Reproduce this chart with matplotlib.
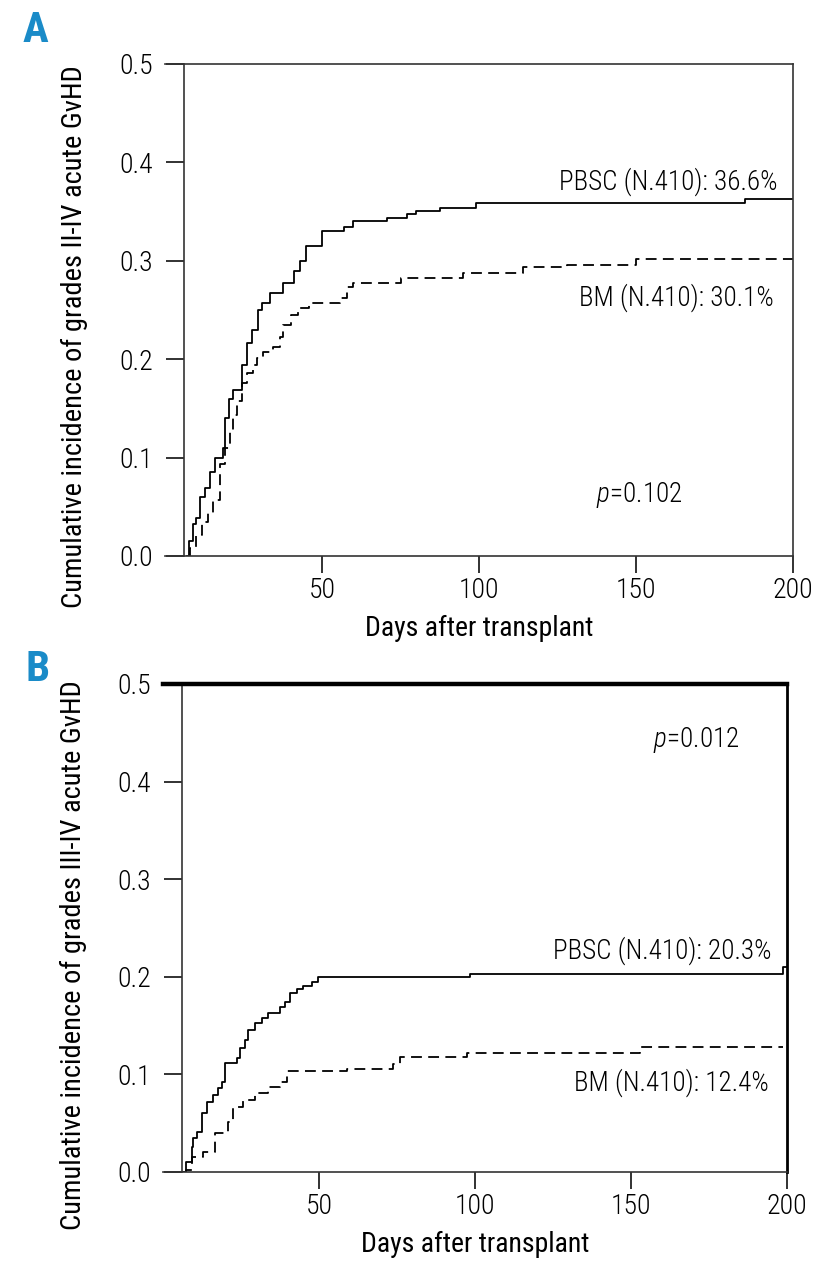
import numpy as np
import matplotlib
matplotlib.use("Agg")
import matplotlib.pyplot as plt

plt.rcParams['font.family'] = ['Liberation Sans Narrow', 'Roboto Condensed', 'DejaVu Sans']
plt.rcParams['font.stretch'] = 'condensed'
plt.rcParams['font.weight'] = 'light'
plt.rcParams['mathtext.fontset'] = 'custom'
plt.rcParams['mathtext.it'] = 'Roboto Condensed:italic:light'
plt.rcParams['mathtext.rm'] = 'Roboto Condensed:light'

# panel A: grades II-IV
a_pbsc_days = [7, 7.6, 9, 10, 11, 12.7, 14.3, 16, 18.5, 19, 20.4, 21.7, 24.5, 26, 27.7, 29.6,
               31, 33.4, 37.6, 41, 43, 45, 50, 57, 60, 70.7, 77, 80, 87.6, 99, 184.7, 200]
a_pbsc_cum = [0, 0.015, 0.033, 0.039, 0.06, 0.069, 0.085, 0.10, 0.11, 0.14, 0.16, 0.169, 0.194,
              0.216, 0.23, 0.25, 0.257, 0.267, 0.277, 0.29, 0.30, 0.315, 0.33, 0.334, 0.34, 0.343,
              0.348, 0.351, 0.354, 0.359, 0.363, 0.363]
a_bm_days = [7.3, 8, 10, 11.7, 13.7, 15.3, 17.5, 19, 20.7, 21.7, 22.8, 24.5, 26, 28, 29.3, 31.2,
             34.4, 36.6, 37.6, 40, 42.4, 46, 55.7, 58, 60, 75, 95, 114, 128, 150, 200]
a_bm_cum = [0, 0.008, 0.021, 0.035, 0.044, 0.057, 0.094, 0.11, 0.128, 0.143, 0.158, 0.176, 0.186,
            0.194, 0.201, 0.207, 0.212, 0.223, 0.235, 0.245, 0.252, 0.257, 0.262, 0.273, 0.277,
            0.283, 0.288, 0.294, 0.296, 0.302, 0.302]

# panel B: grades III-IV
b_pbsc_days = [6.4, 7.4, 9.3, 9.6, 10.9, 12.5, 14, 16, 17.6, 18.9, 19.9, 23.7, 24.7, 26.3, 27.2,
               29.5, 31.7, 33.7, 37.5, 39, 40.7, 42.9, 45, 47.8, 49.7, 98.4, 198.7, 200]
b_pbsc_cum = [0, 0.01, 0.026, 0.035, 0.041, 0.06, 0.072, 0.079, 0.086, 0.092, 0.112, 0.117, 0.127,
              0.135, 0.145, 0.153, 0.158, 0.163, 0.169, 0.174, 0.183, 0.188, 0.191, 0.195, 0.2,
              0.203, 0.21, 0.21]
b_bm_days = [6.4, 7.4, 9.3, 12.8, 16.7, 20.8, 22.4, 25.6, 29.5, 33.7, 37.5, 39.7, 59, 73.7, 76,
             97.4, 153, 198.7]
b_bm_cum = [0, 0.002, 0.015, 0.02, 0.04, 0.051, 0.067, 0.074, 0.081, 0.087, 0.092, 0.103, 0.106,
            0.111, 0.118, 0.122, 0.128, 0.128]

xticks = [50, 100, 150, 200]
yticks = [0.0, 0.1, 0.2, 0.3, 0.4, 0.5]

fig = plt.figure(figsize=(8.32, 12.8), dpi=100)
axA = fig.add_axes([165/832, 1-556/1280, 628/832, 492/1280])
axB = fig.add_axes([163/832, 1-1172/1280, 624/832, 488/1280])

panels = [
    (axA, a_pbsc_days, a_pbsc_cum, a_bm_days, a_bm_cum,
     'Cumulative incidence of grades II-IV acute GvHD',
     'PBSC (N.410): 36.6%', 0.38, 'BM (N.410): 30.1%', 0.263, (151, 0.062), '=0.102'),
    (axB, b_pbsc_days, b_pbsc_cum, b_bm_days, b_bm_cum,
     'Cumulative incidence of grades III-IV acute GvHD',
     'PBSC (N.410): 20.3%', 0.227, 'BM (N.410): 12.4%', 0.092, (171, 0.443), '=0.012'),
]

fs = 20
for ax, pd_, pc, bd, bc, ylab, plab, py, blab, by, ppos, pval in panels:
    ax.plot(pd_, pc, drawstyle='steps-post', color='black', lw=1.3)
    l, = ax.plot(bd, bc, drawstyle='steps-post', color='black', lw=1.3)
    l.set_dashes([6, 3.5])
    ax.set_xlim(0, 200)
    ax.set_ylim(0, 0.5)
    ax.spines['left'].set_position(('data', 6))
    ax.set_xticks(xticks)
    ax.set_yticks(yticks)
    ax.set_yticklabels([f'{v:.1f}' for v in yticks])
    ax.tick_params(axis='y', length=13, width=1.3, pad=9, labelsize=fs, color='#222')
    ax.tick_params(axis='x', length=12, width=1.3, pad=3, labelsize=fs, color='#222')
    ax.set_xlabel('Days after transplant', fontsize=fs)
    ax.xaxis.set_label_coords(0.5, -0.12)
    ax.set_ylabel(ylab, fontsize=20.5)
    ax.yaxis.set_label_coords(-0.122, 0.445)
    ax.text(0.975, py, plab, transform=ax.get_yaxis_transform(), ha='right', va='center', fontsize=19.5)
    ax.text(0.97, by, blab, transform=ax.get_yaxis_transform(), ha='right', va='center', fontsize=19.5)
    ax.text(ppos[0], ppos[1], '$\\it{p}$' + pval, ha='center', va='center', fontsize=19.5)
    for s in ax.spines.values():
        s.set_color('#333')
        s.set_linewidth(1.2)

axB.spines['top'].set_linewidth(3.2)
axB.spines['top'].set_color('black')
axB.spines['right'].set_linewidth(2)
axB.spines['right'].set_color('black')

fig.text(23/832, 1-42/1280, 'A', color='#1a8bc8', fontsize=31, fontweight='bold', ha='left', va='baseline')
fig.text(25/832, 1-681/1280, 'B', color='#1a8bc8', fontsize=31, fontweight='bold', ha='left', va='baseline')

fig.savefig('out.png', dpi=100)
